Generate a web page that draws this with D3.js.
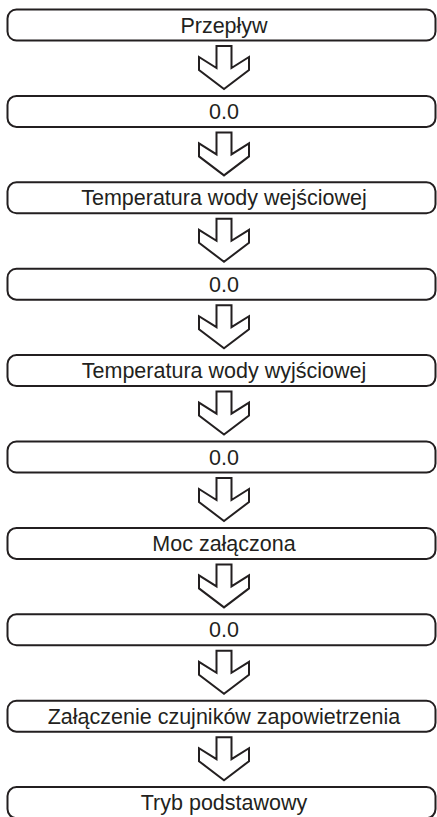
<!doctype html>
<html lang="pl">
 <head>
   <meta charset="UTF-8">
   <title>Schemat</title>
   <script src="https://d3js.org/d3.v7.min.js"></script>
   <style>
     body { margin: 0; background: #fff; }
   </style>
 </head>
 <body>
   <div id="myDiv"></div>

 <script type="text/javascript">

   // steps of the sequence, top to bottom
   let steps = [
     "Przepływ",
     "0.0",
     "Temperatura wody wejściowej",
     "0.0",
     "Temperatura wody wyjściowej",
     "0.0",
     "Moc załączona",
     "0.0",
     "Załączenie czujników zapowietrzenia",
     "Tryb podstawowy"
   ];

   let width = 437, height = 817;
   let ink = "#231f20";
   let boxH = 31;

   let svgContainer = d3.select("#myDiv").append("svg")
      .attr("width", width)
      .attr("height", height);

   // vertical position of each step box
   let y = d3.scaleBand()
      .domain(d3.range(steps.length))
      .range([9.5, 9.5 + 86.4 * steps.length])
      .paddingInner(0)
      .paddingOuter(0);

   let x = d3.scaleLinear().domain([0, 1]).range([7.5, 435.5]);
   let cx = 224;

   // boxes
   svgContainer.selectAll("rect.step")
      .data(steps)
      .enter()
      .append("rect")
         .attr("class", "step")
         .attr("x", x(0))
         .attr("y", function(d, i){ return y(i); })
         .attr("width", x(1) - x(0))
         .attr("height", boxH)
         .attr("rx", 9)
         .attr("ry", 9)
         .attr("fill", "none")
         .attr("stroke", ink)
         .attr("stroke-width", 2);

   // labels
   svgContainer.selectAll("text.step")
      .data(steps)
      .enter()
      .append("text")
         .attr("class", "step")
         .attr("x", cx)
         .attr("y", function(d, i){ return y(i) + boxH / 2 + 7.6; })
         .attr("text-anchor", "middle")
         .attr("font-family", "'Liberation Sans', Arial, sans-serif")
         .attr("font-size", "21.5px")
         .attr("fill", ink)
         .text(function(d){ return d; });

   // hollow arrows between boxes
   let arrowPts = [[-7.5, 5.5], [7.5, 5.5], [7.5, 27.5], [25, 16.5], [25, 29.5],
                   [0, 48.5], [-25, 29.5], [-25, 16.5], [-7.5, 27.5]];
   let line = d3.line().curve(d3.curveLinearClosed);

   svgContainer.selectAll("path.arrow")
      .data(steps.slice(0, -1))
      .enter()
      .append("path")
         .attr("class", "arrow")
         .attr("d", function(d, i){
             let top = y(i) + boxH;
             return line(arrowPts.map(function(p){ return [cx + p[0], top + p[1]]; }));
         })
         .attr("fill", "none")
         .attr("stroke", ink)
         .attr("stroke-width", 2)
         .attr("stroke-linejoin", "miter");

 </script>
</body>
</html>
